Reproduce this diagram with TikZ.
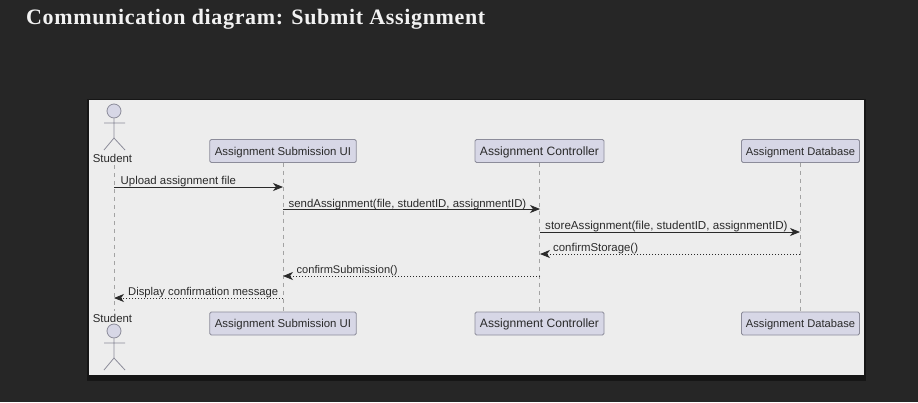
\documentclass[tikz,border=0pt]{standalone}
\usepackage{fontspec}
\setmainfont{Liberation Sans}
\newfontfamily\titlefont[LetterSpace=3.0]{Liberation Serif}
\usetikzlibrary{arrows.meta}
\definecolor{pagebg}{HTML}{262626}
\definecolor{panelbg}{HTML}{EDEDED}
\definecolor{shadowc}{HTML}{161616}
\definecolor{boxfill}{HTML}{D7D7E6}
\definecolor{boxline}{HTML}{8C8C9A}
\definecolor{lifeline}{HTML}{A3A3A3}
\definecolor{inkc}{HTML}{2A2A2A}
\tikzset{
  x=1pt,y=-1pt,
  partbox/.style={draw=boxline,fill=boxfill,rounded corners=1.5pt,line width=0.9pt,minimum height=23pt,inner sep=0pt,text=inkc,text height=10pt,text depth=2pt,font=\fontsize{11.4}{14}\selectfont},
  ctbox/.style={partbox,minimum width=129pt,font=\fontsize{12.1}{14}\selectfont},
  dbbox/.style={partbox,minimum width=118pt,font=\fontsize{11.15}{14}\selectfont},
  lifeln/.style={draw=lifeline,line width=0.9pt,dash pattern=on 4pt off 4pt},
  actorln/.style={draw=boxline,line width=0.8pt},
  actorhead/.style={circle,draw=boxline,fill=boxfill,line width=0.8pt,minimum size=14pt,inner sep=0pt},
  actorlbl/.style={text=inkc,inner sep=0pt,font=\fontsize{11.4}{14}\selectfont},
  msg/.style={draw=inkc,line width=0.8pt,-{Stealth[length=10pt,width=8pt,inset=3pt]}},
  ret/.style={msg,dash pattern=on 1.5pt off 1.5pt},
  msglbl/.style={text=inkc,inner sep=0pt,anchor=base west,font=\fontsize{11.4}{13}\selectfont},
}
\begin{document}
\begin{tikzpicture}
\useasboundingbox (0,0) rectangle (918,402);
\fill[pagebg] (0,0) rectangle (918,402);
\fill[shadowc] (86.5,99) rectangle (866,381);
\fill[panelbg] (88.5,100) rectangle (864,375);
\node[anchor=base west,text=white!95!black,inner sep=0pt,font=\titlefont\bfseries\fontsize{22}{24}\selectfont] (title) at (26,24.5) {Communication diagram: Submit Assignment};
% participants
\node[partbox,minimum width=146.5pt] (uiT) at (283,151) {Assignment Submission UI};
\node[ctbox] (ctT) at (539.5,151) {Assignment Controller};
\node[dbbox] (dbT) at (800.5,151) {Assignment Database};
\node[partbox,minimum width=146.5pt] (uiB) at (283,323.5) {Assignment Submission UI};
\node[ctbox] (ctB) at (539.5,323.5) {Assignment Controller};
\node[dbbox] (dbB) at (800.5,323.5) {Assignment Database};
\node[actorlbl] (stT) at (112.5,158) {Student};
\node[actorlbl] (stB) at (112.5,318.5) {Student};
% lifelines
\coordinate (stTl) at (114,165);
\coordinate (stBl) at (114,311);
\draw[lifeln] (stTl) -- (stBl);
\draw[lifeln] (uiT.south) -- (uiB.north);
\draw[lifeln] (ctT.south) -- (ctB.north);
\draw[lifeln] (dbT.south) -- (dbB.north);
% actors
\node[actorhead] (hT) at (114,111) {};
\coordinate (bT) at (114,138);
\coordinate (aTl) at (104,123); \coordinate (aTr) at (125,123);
\coordinate (lTl) at (104,150); \coordinate (lTr) at (125,150);
\draw[actorln] (hT) -- (bT) (aTl) -- (aTr) (lTl) -- (bT) -- (lTr);
\node[actorhead] (hB) at (114,331) {};
\coordinate (bB) at (114,358);
\coordinate (aBl) at (104,343); \coordinate (aBr) at (125,343);
\coordinate (lBl) at (104,370); \coordinate (lBr) at (125,370);
\draw[actorln] (hB) -- (bB) (aBl) -- (aBr) (lBl) -- (bB) -- (lBr);
% message ends
\coordinate (m1a) at (114,187);   \coordinate (m1b) at (283,187);
\coordinate (m2a) at (283,209);   \coordinate (m2b) at (540,209);
\coordinate (m3a) at (540,232);   \coordinate (m3b) at (800,232);
\coordinate (m4a) at (800,254);   \coordinate (m4b) at (540,254);
\coordinate (m5a) at (540,276);   \coordinate (m5b) at (283,276);
\coordinate (m6a) at (283,298);   \coordinate (m6b) at (114,298);
\draw[msg] (m1a) -- (m1b);
\draw[msg] (m2a) -- (m2b);
\draw[msg] (m3a) -- (m3b);
\draw[ret] (m4a) -- (m4b);
\draw[ret] (m5a) -- (m5b);
\draw[ret] (m6a) -- (m6b);
\node[msglbl] (t1) at (120.5,184.5) {Upload assignment file};
\node[msglbl] (t2) at (288.5,207) {sendAssignment(file, studentID, assignmentID)};
\node[msglbl,font=\fontsize{11.6}{13}\selectfont] (t3) at (545,229.5) {storeAssignment(file, studentID, assignmentID)};
\node[msglbl] (t4) at (553,251.5) {confirmStorage()};
\node[msglbl,font=\fontsize{11.07}{13}\selectfont] (t5) at (296.5,273.5) {confirmSubmission()};
\node[msglbl,font=\fontsize{11.25}{13}\selectfont] (t6) at (128,295.5) {Display confirmation message};
\end{tikzpicture}
\end{document}
